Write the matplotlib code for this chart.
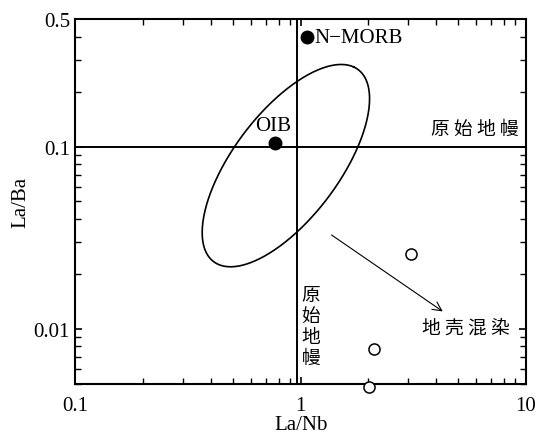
import numpy as np
import matplotlib
matplotlib.use('Agg')
import matplotlib.pyplot as plt

plt.rcParams['font.family'] = ['Liberation Serif', 'Noto Sans CJK SC']

# reference compositions (La/Nb, La/Ba)
ref_names = ['N\u2212MORB', 'OIB']
ref_lanb = [1.07, 0.77]
ref_laba = [0.40, 0.105]

# samples
smp_lanb = [3.08, 2.11, 2.01]
smp_laba = [0.0258, 0.0077, 0.0048]

# primitive mantle values
pm_lanb = 0.96
pm_laba = 0.1

# field ellipse in log10 space: centre, semi-axes, angle (deg)
ell_center = (0.86, 0.0787)
ell_axes = (0.62, 0.25)
ell_angle = 61.0

# crustal contamination arrow
arrow_start = (1.34, 0.0334)
arrow_end = (4.38, 0.0122)

fig = plt.figure(figsize=(5.39, 4.35), dpi=100)
ax = fig.add_axes([0.140, 0.116, 0.8355, 0.837])
ax.set_xscale('log')
ax.set_yscale('log')
ax.set_xlim(0.1, 10)
ax.set_ylim(0.005, 0.5)

# primitive mantle lines
ax.axvline(pm_lanb, color='k', lw=1.4)
ax.axhline(pm_laba, color='k', lw=1.4)

# ellipse
t = np.linspace(0, 2 * np.pi, 300)
th = np.radians(ell_angle)
ex = ell_axes[0] * np.cos(t) * np.cos(th) - ell_axes[1] * np.sin(t) * np.sin(th)
ey = ell_axes[0] * np.cos(t) * np.sin(th) + ell_axes[1] * np.sin(t) * np.cos(th)
ax.plot(ell_center[0] * 10 ** ex, ell_center[1] * 10 ** ey, color='k', lw=1.2)

# reference points
ax.plot(ref_lanb, ref_laba, 'o', color='k', ms=9, clip_on=False, zorder=5)
ax.text(ref_lanb[0] * 1.075, ref_laba[0], ref_names[0], fontsize=15,
        ha='left', va='center')
ax.text(ref_lanb[1] * 0.98, ref_laba[1] * 1.24, ref_names[1], fontsize=15,
        ha='center', va='center')

# samples
ax.plot(smp_lanb, smp_laba, 'o', mfc='white', mec='k', mew=1.1, ms=8,
        clip_on=False, zorder=5)

# arrow
ax.annotate('', xy=arrow_end, xytext=arrow_start,
            arrowprops=dict(arrowstyle='->', lw=0.8, color='k',
                            mutation_scale=16))

cjk = ['Noto Sans CJK SC', 'DejaVu Sans']
ax.text(9.3, 0.126, '原 始 地 幔', fontsize=13.5, family=cjk,
        ha='right', va='center')
ax.text(1.01, 0.0103, '原\n始\n地\n幔', fontsize=13.5, family=cjk,
        ha='left', va='center', linespacing=1.0)
ax.text(5.4, 0.0102, '地 壳 混 染', fontsize=13.5, family=cjk,
        ha='center', va='center')

# ticks
ax.set_xticks([0.1, 1, 10])
ax.set_xticklabels(['0.1', '1', '10'])
ax.set_yticks([0.01, 0.1, 0.5])
ax.set_yticklabels(['0.01', '0.1', '0.5'])
ax.tick_params(which='both', direction='in', top=True, right=True,
               labelsize=15)
ax.tick_params(axis='x', which='both', pad=9)
ax.tick_params(axis='y', which='both', pad=4)
ax.tick_params(which='major', length=5, width=1.2)
ax.tick_params(which='minor', length=4, width=1.0)
for s in ax.spines.values():
    s.set_linewidth(1.5)

ax.set_xlabel('La/Nb', fontsize=15, labelpad=0)
ax.set_ylabel('La/Ba', fontsize=15, labelpad=2)

fig.savefig('out.png', dpi=100)
